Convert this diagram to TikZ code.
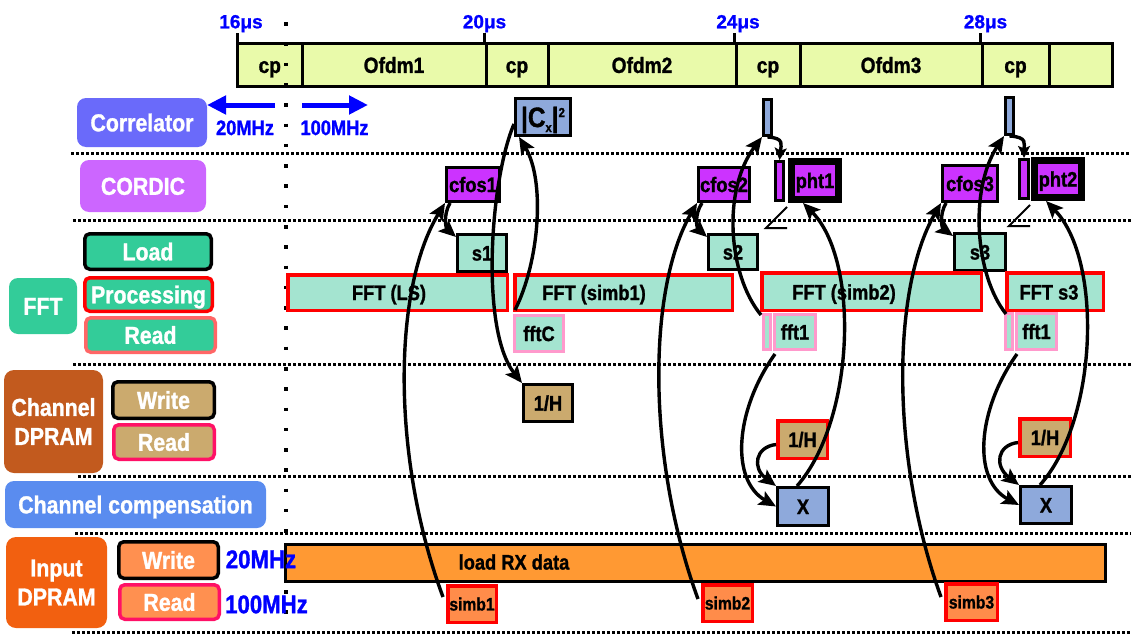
\documentclass[tikz,border=0pt]{standalone}
\usepackage{fontspec}
\setmainfont{Liberation Sans}
\newfontfamily\cond[FakeStretch=0.87,FakeBold=1.2]{Liberation Sans}
\newfontfamily\wide[FakeBold=1]{Liberation Sans}
\usetikzlibrary{arrows.meta}

\definecolor{tlfill}{HTML}{E9FAAA}
\definecolor{corrc}{HTML}{6A6AFA}
\definecolor{cordc}{HTML}{CC66FF}
\definecolor{fftg}{HTML}{33CC99}
\definecolor{fftlite}{HTML}{A4E4D0}
\definecolor{purp}{HTML}{CC33FF}
\definecolor{cxb}{HTML}{8EA9DB}
\definecolor{chb}{HTML}{C25A1E}
\definecolor{chl}{HTML}{CBAA6E}
\definecolor{ccmp}{HTML}{5A8CEF}
\definecolor{indp}{HTML}{F26010}
\definecolor{inl}{HTML}{FF9050}
\definecolor{rxc}{HTML}{FF9933}
\definecolor{simbf}{HTML}{FF8C4A}
\definecolor{fred}{HTML}{FF0000}
\definecolor{fpink}{HTML}{FF99CC}
\definecolor{fsalmon}{HTML}{FF6666}
\definecolor{fcrim}{HTML}{FF1166}
\definecolor{tblue}{HTML}{0000FF}

% box from its outer corners (x1,y1)-(x2,y2); optional arg = border width
\newcommand\bx[8][3]{%
  \node[#7, minimum width={#5-#3-#1}, minimum height={#6-#4-#1}]
    (#2) at ({(#3+#5)/2},{(#4+#6)/2}) {#8};}

\tikzset{
  fs/.style={font=\cond\bfseries\fontsize{#1}{30}\selectfont,
             text height={0.72*#1}, text depth=0pt},
  fm/.style={font=\cond\bfseries\fontsize{#1}{29}\selectfont, align=center},
  cell/.style={draw=black, line width=3pt, fill=tlfill, inner sep=0pt, fs=22},
  tickln/.style={line width=3pt},
  tk/.style={text=tblue, font=\wide\bfseries\fontsize{19}{22}\selectfont,
             text height=13.6pt, text depth=0pt, inner sep=0pt},
  mhz/.style={text=tblue, fs=#1, inner sep=0pt},
  lab/.style={rounded corners=9pt, inner sep=0pt, text=white, fs=24.5},
  labm/.style={rounded corners=10pt, inner sep=0pt, text=white, fm=24.5},
  sub/.style={rounded corners=5pt, line width=3.5pt, inner sep=0pt, text=white, fs=24.5},
  blk/.style={draw=black, line width=3pt, inner sep=0pt, fs=21},
  fbar/.style={draw=fred, line width=3.5pt, fill=fftlite, inner sep=0pt},
  rbox/.style={draw=fred, line width=3.5pt, inner sep=0pt, fs=21},
  pbox/.style={draw=fpink, line width=3pt, fill=fftlite, inner sep=0pt, fs=21},
  btxt/.style={fs=21, inner sep=0pt},
  flow/.style={line width=3.4pt, -{Stealth[length=17pt,width=15pt,inset=3.5pt]}},
  hook/.style={line width=3.4pt, -{Stealth[length=12pt,width=12pt,inset=2.5pt]}},
  hdots/.style={line width=3pt, dash pattern=on 3.3pt off 1.7pt},
  vdots/.style={line width=3.5pt, dash pattern=on 3.5pt off 16.78pt},
  barrow/.style={draw=tblue, line width=5pt, -{Triangle[length=19pt,width=18pt]}},
  anglemark/.style={line width=2pt},
}

\begin{document}
\begin{tikzpicture}[x=1pt,y=-1pt]
\useasboundingbox (0,0) rectangle (1131,634);

% row separators
\foreach \yy/\xs in {153/71, 220/73, 364/73, 476/78, 533/75, 632/72}{
  \coordinate (hs\yy) at (\xs,\yy);
  \coordinate (he\yy) at (1131,\yy);
  \draw[hdots] (hs\yy) -- (he\yy);
}

% time line of the received frame
\bx[0]{c0}{237.5}{43.5}{302}{86.5}{cell}{cp}
\bx[0]{c1}{302}{43.5}{486}{86.5}{cell}{Ofdm1}
\bx[0]{c2}{486}{43.5}{548}{86.5}{cell}{cp}
\bx[0]{c3}{548}{43.5}{736}{86.5}{cell}{Ofdm2}
\bx[0]{c4}{736}{43.5}{800}{86.5}{cell}{cp}
\bx[0]{c5}{800}{43.5}{982}{86.5}{cell}{Ofdm3}
\bx[0]{c6}{982}{43.5}{1049}{86.5}{cell}{cp}
\bx[0]{c7}{1049}{43.5}{1112}{86.5}{cell}{}

\draw[tickln] ([xshift=1.5pt]c0.north west) -- ++(0,-9);
\draw[tickln] (c2.north west) -- ++(0,-9);
\draw[tickln] (c4.north west) -- ++(0,-9);
\draw[tickln] (c6.north west) -- ++(0,-9);
\node[tk] (t16) at (241,21.5) {16μs};
\node[tk] (t20) at (484.5,21.5) {20μs};
\node[tk] (t24) at (738,21.5) {24μs};
\node[tk] (t28) at (985.5,21.5) {28μs};

% clock domain boundary
\coordinate (vtop) at (286,22.25);
\coordinate (vbot) at (286,620);
\draw[vdots] (vtop) -- (vbot);

% clock rate arrows
\coordinate (la) at (275,105);
\coordinate (lb) at (207,105);
\coordinate (ra) at (302,105);
\coordinate (rb) at (368,105);
\draw[barrow] (la) -- (lb);
\draw[barrow] (ra) -- (rb);
\node[mhz=21] (m20) at (245,127.5) {20MHz};
\node[mhz=21] (m100) at (334.5,127.5) {100MHz};

% block names
\bx[0]{corrL}{77}{98}{207}{147}{lab, fill=corrc}{Correlator}
\bx[0]{cordL}{80}{160}{206}{212}{lab, fill=cordc}{CORDIC}
\bx[0]{fftL}{9}{278}{77}{334}{lab, fill=fftg}{FFT}
\bx[3.5]{loadL}{83}{232}{213}{271}{sub, draw=black, fill=fftg}{Load}
\bx[3.5]{procL}{83}{276}{214}{313}{sub, draw=fred, fill=fftg}{Processing}
\bx[3.5]{readL}{84}{316}{217}{354}{sub, draw=fsalmon, fill=fftg}{Read}
\bx[0]{chL}{4}{370}{103}{473}{labm, fill=chb}{Channel\\DPRAM}
\bx[3.5]{chW}{111}{380}{216}{420}{sub, draw=black, fill=chl}{Write}
\bx[3.5]{chR}{112}{423}{216}{461}{sub, draw=fcrim, fill=chl}{Read}
\bx[0]{ccL}{5}{481}{266}{528}{lab, fill=ccmp}{Channel compensation}
\bx[0]{inL}{6}{537}{107}{628}{labm, fill=indp}{Input\\DPRAM}
\bx[3.5]{inW}{117}{540}{220}{580}{sub, draw=black, fill=inl}{Write}
\bx[3.5]{inR}{118}{583}{221}{621}{sub, draw=fcrim, fill=inl}{Read}

% correlator
\bx{cx}{514}{97}{572}{137}{blk, fill=cxb, text height=20pt}{\fontsize{28}{28}\selectfont|C\raisebox{-5pt}{\fontsize{13}{13}\selectfont x}|\raisebox{10pt}{\fontsize{13}{13}\selectfont 2}}
\bx{cbar2}{762}{98}{773}{137}{blk, fill=cxb}{}
\bx{cbar3}{1004}{96}{1015}{136}{blk, fill=cxb}{}

% CORDIC
\bx{cfos1}{445}{166}{501}{203}{blk, fill=purp}{cfos1}
\bx{cfos2}{697}{166}{751}{203}{blk, fill=purp}{cfos2}
\bx{pbar1}{774}{160}{785}{202}{blk, fill=purp}{}
\bx[7]{pht1}{788}{158}{842}{203}{blk, line width=7pt, fill=purp}{pht1}
\bx{cfos3}{941}{164}{999}{203}{blk, fill=purp}{cfos3}
\bx{pbar2}{1018}{158}{1030}{200}{blk, fill=purp}{}
\bx[7]{pht2}{1031}{157}{1085}{201}{blk, line width=7pt, fill=purp}{pht2}
\draw[anglemark] ([shift={(-1pt,-4pt)}]pht1.south west) -- ++(-21,21) -- ++(21,0);
\draw[anglemark] ([shift={(-1pt,-4pt)}]pht2.south west) -- ++(-21,21) -- ++(21,0);

% FFT
\bx{s1}{456}{233}{508}{273}{blk, fill=fftlite}{s1}
\bx{s2}{707}{233}{759}{271}{blk, fill=fftlite}{s2}
\bx{s3}{953}{232}{1007}{272}{blk, fill=fftlite}{s3}
\bx[3.5]{fftLS}{286}{273}{509}{312}{fbar}{}
\bx[3.5]{fftS1}{513}{273}{734}{312}{fbar}{}
\bx[3.5]{fftS2}{760}{271}{983}{312}{fbar}{}
\bx[3.5]{fftS3}{1005}{271}{1105}{312}{fbar}{}
\node[btxt] (tLS) at (389,292.5) {FFT (LS)};
\node[btxt] (tS1) at (594,292.5) {FFT (simb1)};
\node[btxt] (tS2) at (844,292) {FFT (simb2)};
\node[btxt] (tS3) at (1049,292) {FFT s3};
\bx{fftC}{513}{314}{565}{353}{pbox}{fftC}
\bx{fr2a}{762}{313}{772}{351}{pbox}{}
\bx{fr2}{773}{313}{817}{351}{pbox}{fft1}
\bx{fr3a}{1004}{312}{1014}{351}{pbox}{}
\bx{fr3}{1015}{312}{1058}{351}{pbox}{fft1}

% channel DPRAM
\bx{ih1}{522}{383}{574}{423}{blk, fill=chl}{1/H}
\bx[3.5]{ih2}{776}{419}{829}{460}{rbox, fill=chl}{1/H}
\bx[3.5]{ih3}{1018}{417}{1072}{458}{rbox, fill=chl}{1/H}

% channel compensation
\bx{x1}{776}{486}{830}{527}{blk, fill=cxb}{X}
\bx{x2}{1019}{485}{1073}{525}{blk, fill=cxb}{X}

% input DPRAM
\bx{rx}{284}{543}{1107}{583}{blk, fill=rxc}{}
\node[btxt] (rxt) at (514,562) {load RX data};
\bx[3.5]{sb1}{446}{584}{498}{624}{rbox, fill=simbf, fs=18}{simb1}
\bx[3.5]{sb2}{701}{583}{754}{623}{rbox, fill=simbf, fs=18}{simb2}
\bx[3.5]{sb3}{944}{582}{999}{622}{rbox, fill=simbf, fs=18}{simb3}
\node[mhz=25.5] (b20) at (261,559) {20MHz};
\node[mhz=25.5] (b100) at (266.5,604) {100MHz};

% data flow
\draw[flow] ([shift={(-3pt,7pt)}]sb1.west) .. controls (392,460) and (392,290) .. (cfos1.south west);
\draw[flow] ([xshift=5pt]cfos1.south west) .. controls (443,215) and (446,228) .. ([yshift=-4pt]s1.north west);
\draw[flow] ([yshift=-7pt]cx.west) .. controls (490,180) and (480,330) .. (ih1.north west);
\draw[flow] ([shift={(2pt,4pt)}]fftC.north west) .. controls (540,260) and (545,180) .. ([xshift=5pt]cx.south west);

\draw[flow] ([shift={(-3pt,4pt)}]sb2.west) .. controls (647,460) and (647,290) .. (cfos2.south west);
\draw[flow] ([xshift=5pt]cfos2.south west) .. controls (694,215) and (697,228) .. ([yshift=-4pt]s2.north west);
\draw[flow] ([shift={(-1pt,-2pt)}]fr2a.north west) .. controls (728,275) and (722,190) .. (cbar2.south west);
\draw[hook] (cbar2.south) .. controls (785,138) and (781,145) .. (pbar1.north);
\draw[flow] ([xshift=-6pt]x1.north) .. controls (855,420) and (860,260) .. ([xshift=-12pt]pht1.south);
\draw[flow] ([shift={(2pt,-3pt)}]fr2.south west) .. controls (735,410) and (730,480) .. (x1.west);
\draw[flow] ([yshift=-5pt]ih2.west) .. controls (755,447) and (752,468) .. (x1.north west);

\draw[flow] ([shift={(-3pt,5pt)}]sb3.west) .. controls (891,460) and (891,290) .. (cfos3.south west);
\draw[flow] ([xshift=5pt]cfos3.south west) .. controls (939,215) and (942,228) .. ([yshift=-4pt]s3.north west);
\draw[flow] ([shift={(2pt,-2pt)}]fr3a.north west) .. controls (975,275) and (969,190) .. (cbar3.south west);
\draw[hook] (cbar3.south) .. controls (1028,137) and (1024,144) .. (pbar2.north);
\draw[flow] ([xshift=-6pt]x2.north) .. controls (1098,420) and (1103,260) .. ([xshift=-12pt]pht2.south);
\draw[flow] ([shift={(2pt,-3pt)}]fr3.south west) .. controls (977,410) and (972,480) .. (x2.west);
\draw[flow] ([yshift=-5pt]ih3.west) .. controls (997,445) and (994,466) .. (x2.north west);
\end{tikzpicture}
\end{document}
